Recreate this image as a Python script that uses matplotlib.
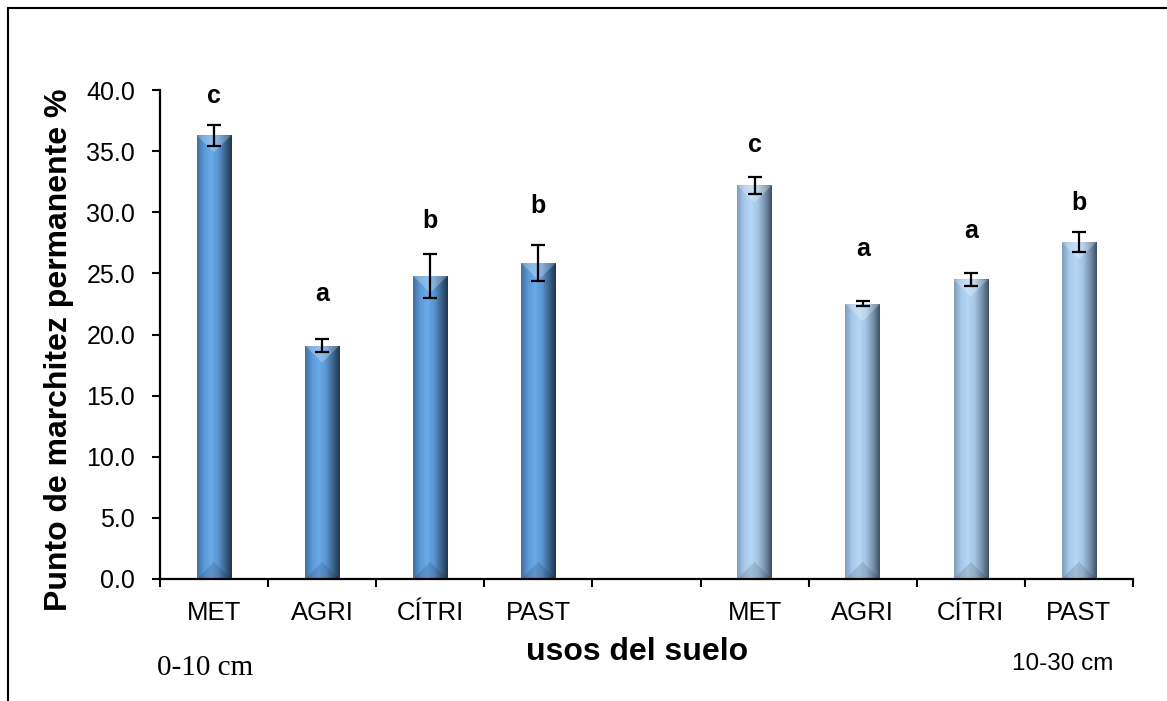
import numpy as np
import matplotlib.pyplot as plt
from matplotlib.colors import LinearSegmentedColormap
from matplotlib.patches import Rectangle

# soil uses and the two sampling depths
uses = ['MET', 'AGRI', 'CÍTRI', 'PAST']
vals_0_10 = [36.3, 19.1, 24.8, 25.85]
err_0_10 = [0.85, 0.55, 1.8, 1.5]
letters_0_10 = ['c', 'a', 'b', 'b']
letter_y_0_10 = [38.9, 22.7, 28.7, 29.9]

vals_10_30 = [32.2, 22.5, 24.5, 27.55]
err_10_30 = [0.7, 0.2, 0.55, 0.8]
letters_10_30 = ['c', 'a', 'a', 'b']
letter_y_10_30 = [34.9, 26.4, 27.9, 30.2]

tick_labels = uses + [''] + uses

plt.rcParams['font.family'] = ['Liberation Sans', 'DejaVu Sans']

fig = plt.figure(figsize=(11.67, 7.01), dpi=100)
ax = fig.add_axes([160 / 1167, 1 - 579 / 701, (1133 - 160) / 1167, (579 - 90) / 701])

pos1 = np.arange(len(uses))
pos2 = np.arange(len(uses)) + len(uses) + 1
width = 0.32

# cylinder-like shading, dark edges and a bright centre
cmap1 = LinearSegmentedColormap.from_list('c1', ['#3f6f9f', '#5b98d6', '#6aaae8', '#5a96d2', '#3c6690', '#1d3550'])
cmap2 = LinearSegmentedColormap.from_list('c2', ['#7f9cba', '#a6c8ea', '#b6d7f6', '#a4c4e4', '#7892ad', '#3e5164'])

for pos, vals, errs, cmap in [(pos1, vals_0_10, err_0_10, cmap1), (pos2, vals_10_30, err_10_30, cmap2)]:
    bars = ax.bar(pos, vals, width=width, color='none', edgecolor='none', zorder=2)
    grad = np.linspace(0, 1, 256).reshape(1, -1)
    for b in bars:
        x0, w, h = b.get_x(), b.get_width(), b.get_height()
        im = ax.imshow(grad, cmap=cmap, extent=[x0, x0 + w, 0, h], aspect='auto', zorder=2, origin='lower')
        im.set_clip_path(b)
        # top bevel (light chevron) and bottom bevel (darker)
        ax.fill([x0, x0 + w, x0 + w / 2], [h, h, h - 1.4], color='white', alpha=0.25, lw=0, zorder=2.5)
        ax.fill([x0, x0 + w, x0 + w / 2], [0, 0, 1.4], color='black', alpha=0.12, lw=0, zorder=2.5)
    ax.errorbar(pos, vals, yerr=errs, fmt='none', ecolor='black', elinewidth=1.6,
                capsize=5, capthick=1.6, zorder=3)

for pos, letters, ly in [(pos1, letters_0_10, letter_y_0_10), (pos2, letters_10_30, letter_y_10_30)]:
    for x, l, y in zip(pos, letters, ly):
        ax.text(x, y, l, ha='center', va='baseline', fontsize=18, fontweight='bold')

ax.set_xlim(-0.5, len(tick_labels) - 0.5)
ax.set_ylim(0, 40)
ax.set_yticks(np.arange(0, 40.1, 5))
ax.set_yticklabels([f'{v:.1f}' for v in np.arange(0, 40.1, 5)], fontsize=18)
ax.set_xticks(np.arange(len(tick_labels)))
ax.set_xticklabels(tick_labels, fontsize=18.5)
ax.set_xticks(np.arange(len(tick_labels) + 1) - 0.5, minor=True)
ax.tick_params(axis='x', which='major', length=0, pad=16)
ax.tick_params(axis='x', which='minor', length=6, width=1.5, direction='out')
ax.tick_params(axis='y', length=6, width=1.5, direction='out', pad=12)

for s in ['top', 'right']:
    ax.spines[s].set_visible(False)
for s in ['left', 'bottom']:
    ax.spines[s].set_linewidth(1.6)

fig.text(59 / 1167, 1 - 350 / 701, 'Punto de marchitez permanente %', rotation=90,
         ha='center', va='center', fontsize=23, fontweight='bold')
fig.text(637 / 1167, 1 - 652 / 701, 'usos del suelo', ha='center', va='center',
         fontsize=23, fontweight='bold')
fig.text(157 / 1167, 1 - 668 / 701, '0-10 cm', ha='left', va='center',
         fontsize=21, family=['Liberation Serif', 'DejaVu Serif'])
fig.text(1113 / 1167, 1 - 664 / 701, '10-30 cm', ha='right', va='center', fontsize=17.5)

# outer frame of the figure (runs past right and bottom edges)
fig.patches.append(Rectangle((8 / 1167, -0.1), 1.2, 1 - 8 / 701 + 0.1, transform=fig.transFigure,
                             fill=False, edgecolor='black', linewidth=1.5))

fig.savefig('out.png', dpi=100)
